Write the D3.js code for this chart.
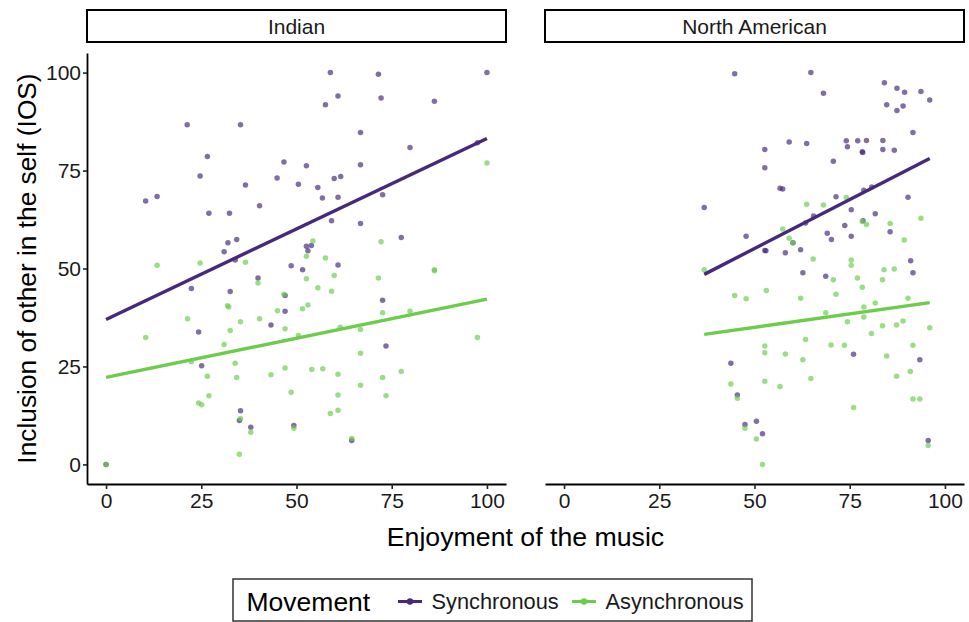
<!DOCTYPE html>
<html>
<head>
<meta charset="utf-8">
<script src="https://cdn.jsdelivr.net/npm/d3@7"></script>
<style>
  html, body { margin: 0; padding: 0; background: #fff; }
  svg text { font-family: "Liberation Sans", Arial, Helvetica, sans-serif; }
</style>
</head>
<body>
<svg id="chart" width="969" height="622"></svg>
<script>
// ---------------- DATA ----------------
const facets = ["Indian", "North American"];
const groups = ["Synchronous", "Asynchronous"];
const xTicks = [0, 25, 50, 75, 100];
const yTicks = [0, 25, 50, 75, 100];
const xTitle = "Enjoyment of the music";
const yTitle = "Inclusion of other in the self (IOS)";
const legendTitle = "Movement";

// [enjoyment, IOS]
const indianSync = [
  [0,0],[10.4,67.2],[13.4,68.4],[21.3,86.7],[22.4,44.9],[24.3,33.8],[24.7,73.6],[25.1,25.2],
  [26.6,78.6],[27.0,64.1],[31.0,54.3],[32.0,56.6],[32.4,64.1],[32.6,44.1],[33.9,52.2],[34.3,57.4],
  [35.0,11.2],[35.3,13.7],[35.3,86.7],[36.6,71.3],[38.0,9.5],[39.9,47.6],[40.3,66.0],[43.3,35.6],
  [44.9,73.1],[46.7,77.2],[47.0,43.1],[47.0,39.1],[48.6,50.7],[49.3,9.9],[50.5,71.5],[51.6,49.7],
  [52.6,76.2],[52.6,55.7],[53.0,54.5],[53.9,55.9],[55.6,70.7],[56.8,68.0],[57.6,91.8],[58.9,100],
  [59.2,62.2],[59.9,73.0],[60.9,94.0],[60.9,68.2],[60.9,50.9],[61.6,73.5],[64.5,6.1],[66.8,84.7],
  [66.8,76.5],[66.8,61.5],[71.5,99.6],[72.2,93.5],[72.6,68.8],[72.6,41.9],[73.5,30.2],[77.5,57.9],
  [79.8,80.9],[86.2,92.7],[97.5,82.1],[100,100]
];
const indianAsync = [
  [0,0],[10.4,32.4],[13.4,50.8],[21.4,37.2],[22.4,26.2],[24.3,15.7],[24.7,51.4],[25.1,15.2],
  [26.6,22.5],[27.0,17.5],[31.0,30.6],[31.9,40.5],[32.2,40.2],[32.6,34.2],[33.9,25.8],[34.3,22.2],
  [35.0,2.6],[35.3,11.7],[35.3,36.4],[36.6,51.6],[38.0,8.2],[39.9,46.3],[40.3,37.2],[43.3,22.9],
  [45.0,39.2],[46.7,43.4],[47.0,34.6],[47.0,24.6],[48.6,18.4],[49.3,9.2],[50.5,32.9],[51.6,39.7],
  [52.6,47.4],[52.6,53.1],[53.0,40.7],[54.0,24.2],[54.3,57.0],[55.6,45.1],[56.9,24.4],[57.6,52.7],
  [58.9,13.0],[59.2,44.2],[59.9,48.2],[60.9,23.0],[60.9,17.7],[60.9,13.8],[61.5,35.0],[64.5,6.6],
  [66.8,34.4],[66.8,28.4],[66.8,20.2],[71.5,47.6],[72.2,56.8],[72.6,38.7],[72.6,22.2],[73.5,17.5],
  [77.5,23.7],[79.8,39.1],[86.2,49.7],[86.2,49.4],[97.5,32.4],[100,76.9]
];
const naSync = [
  [36.8,65.6],[43.8,25.8],[44.8,99.7],[45.5,17.7],[47.5,10.2],[47.8,58.2],[50.5,11.0],[52.1,7.8],
  [52.7,80.4],[52.7,75.7],[52.7,54.6],[53.0,54.5],[56.7,70.5],[57.4,70.3],[58.1,54.0],[59.1,82.3],
  [60.1,56.6],[62.1,54.8],[62.7,48.9],[63.4,61.6],[63.7,81.9],[64.8,100],[65.5,63.4],[68.1,94.7],
  [68.7,48.0],[69.1,59.0],[70.2,57.4],[70.7,77.4],[71.4,68.3],[73.7,61.0],[74.1,82.6],[74.4,81.1],
  [75.4,65.0],[75.4,58.2],[76.0,28.1],[77.1,82.6],[78.3,79.8],[78.4,79.6],[78.5,62.2],[78.7,70.0],
  [79.4,82.7],[80.8,70.8],[81.7,64.0],[83.7,82.7],[83.7,80.4],[84.1,97.4],[84.7,91.8],[85.6,59.4],
  [86.7,80.2],[87.4,96.0],[87.4,90.3],[89.0,91.5],[89.4,95.0],[90.3,68.2],[91.0,52.0],[91.6,84.7],
  [91.6,48.9],[93.4,26.7],[93.7,95.2],[95.6,6.1],[96.0,93.0]
];
const naAsync = [
  [36.8,49.7],[43.8,20.5],[44.8,43.1],[45.5,16.9],[47.5,9.2],[47.8,42.3],[50.5,6.5],[52.1,0],
  [52.7,30.2],[52.7,28.5],[52.7,21.2],[53.1,44.4],[56.7,19.9],[57.4,60.1],[58.1,28.2],[59.1,57.7],
  [60.1,56.6],[62.1,42.4],[62.7,26.7],[63.4,31.9],[63.7,66.4],[64.8,21.9],[65.4,52.4],[68.1,66.2],
  [68.7,38.7],[70.1,30.5],[70.7,47.1],[71.4,43.4],[73.6,30.4],[74.1,68.1],[74.4,36.4],[75.4,52.2],
  [75.4,50.8],[76.0,14.5],[77.0,47.6],[78.3,62.0],[78.3,45.2],[78.7,40.2],[78.7,37.6],[79.4,61.2],
  [80.7,33.4],[81.7,41.2],[83.6,47.1],[83.6,35.4],[84.0,49.7],[84.7,27.7],[85.6,61.5],[86.7,49.9],
  [87.3,35.6],[87.3,22.5],[89.0,36.6],[89.3,57.3],[90.3,42.4],[90.9,23.7],[91.6,30.4],[91.6,16.7],
  [93.4,16.7],[93.7,62.8],[95.6,4.8],[96.0,34.9]
];

// linear fit lines, [x, fitted IOS] at each end of the data range
const indianSyncFit = [[0,37.0],[100,83.2]];
const indianAsyncFit = [[0,22.2],[100,42.2]];
const naSyncFit = [[36.8,48.5],[96.0,78.1]];
const naAsyncFit = [[36.8,33.2],[96.0,41.3]];

const colors = ["#46297a", "#6ccd4c"];

// ---------------- LAYOUT ----------------
const svg = d3.select("#chart");
svg.append("rect").attr("width", 969).attr("height", 622).attr("fill", "#fff");

const panelX = [[87, 506], [545, 964]];
const yRange = [484, 53];
const stripTop = 10, stripBottom = 42;
const textCol = "#1a1a1a";

const y = d3.scaleLinear().domain([-5, 105]).range(yRange);

const panelData = [
  { pts: [indianSync, indianAsync], fits: [indianSyncFit, indianAsyncFit] },
  { pts: [naSync, naAsync], fits: [naSyncFit, naAsyncFit] }
];

facets.forEach((name, i) => {
  const x = d3.scaleLinear().domain([-5, 105]).range(panelX[i]);
  const g = svg.append("g");

  // strip
  g.append("rect")
    .attr("x", panelX[i][0]).attr("y", stripTop)
    .attr("width", panelX[i][1] - panelX[i][0]).attr("height", stripBottom - stripTop)
    .attr("fill", "#fff").attr("stroke", "#000").attr("stroke-width", 2);
  g.append("text")
    .attr("x", (panelX[i][0] + panelX[i][1]) / 2).attr("y", 33.5)
    .attr("text-anchor", "middle").attr("font-size", 21).attr("fill", textCol)
    .text(name);

  // points
  panelData[i].pts.forEach((arr, gi) => {
    g.append("g").selectAll("circle").data(arr).join("circle")
      .attr("cx", d => x(d[0])).attr("cy", d => y(d[1]))
      .attr("r", 2.75)
      .attr("fill", colors[gi]).attr("fill-opacity", 0.68);
  });

  // fit lines
  const line = d3.line().x(d => x(d[0])).y(d => y(d[1]));
  panelData[i].fits.forEach((arr, gi) => {
    g.append("path").datum(arr).attr("d", line)
      .attr("fill", "none").attr("stroke", colors[gi]).attr("stroke-width", 3.4);
  });

  // x axis
  const xa = g.append("g").attr("transform", `translate(0,${yRange[0]})`)
    .call(d3.axisBottom(x).tickValues(xTicks).tickSize(5).tickSizeOuter(0).tickPadding(4));
  xa.select(".domain").attr("stroke", "#000").attr("stroke-width", 1.8);
  xa.selectAll(".tick line").attr("stroke", "#222").attr("stroke-width", 1.6);
  xa.selectAll(".tick text").attr("font-size", 21).attr("fill", textCol)
    .attr("font-family", "Liberation Sans, Arial, sans-serif");

  // y axis only on first panel
  if (i === 0) {
    const ya = g.append("g").attr("transform", `translate(${panelX[0][0]},0)`)
      .call(d3.axisLeft(y).tickValues(yTicks).tickSize(4).tickSizeOuter(0).tickPadding(2));
    ya.select(".domain").attr("stroke", "#000").attr("stroke-width", 1.8);
    ya.selectAll(".tick line").attr("stroke", "#222").attr("stroke-width", 1.6);
    ya.selectAll(".tick text").attr("font-size", 21).attr("fill", textCol)
      .attr("font-family", "Liberation Sans, Arial, sans-serif");
  }
});

// axis titles
svg.append("text")
  .attr("x", (panelX[0][0] + panelX[1][1]) / 2).attr("y", 546)
  .attr("text-anchor", "middle").attr("font-size", 26.7).attr("fill", "#000")
  .text(xTitle);
svg.append("text")
  .attr("transform", `translate(35.5,${(yRange[0] + yRange[1]) / 2}) rotate(-90)`)
  .attr("text-anchor", "middle").attr("font-size", 26.3).attr("fill", "#000")
  .text(yTitle);

// legend
const lg = svg.append("g");
lg.append("rect").attr("x", 233).attr("y", 579).attr("width", 519).attr("height", 42)
  .attr("fill", "#fff").attr("stroke", "#333").attr("stroke-width", 1.5);
lg.append("text").attr("x", 246.5).attr("y", 610.5).attr("font-size", 26.5).attr("fill", "#000")
  .text(legendTitle);
const keyX = [398, 572];
groups.forEach((name, gi) => {
  const kx = keyX[gi];
  lg.append("line").attr("x1", kx).attr("x2", kx + 24).attr("y1", 601.5).attr("y2", 601.5)
    .attr("stroke", colors[gi]).attr("stroke-width", 3);
  lg.append("circle").attr("cx", kx + 12).attr("cy", 601.5).attr("r", 3.2).attr("fill", colors[gi]);
  lg.append("text").attr("x", kx + 33.5).attr("y", 608.5).attr("font-size", 21.8).attr("fill", textCol)
    .text(name);
});
</script>
</body>
</html>
